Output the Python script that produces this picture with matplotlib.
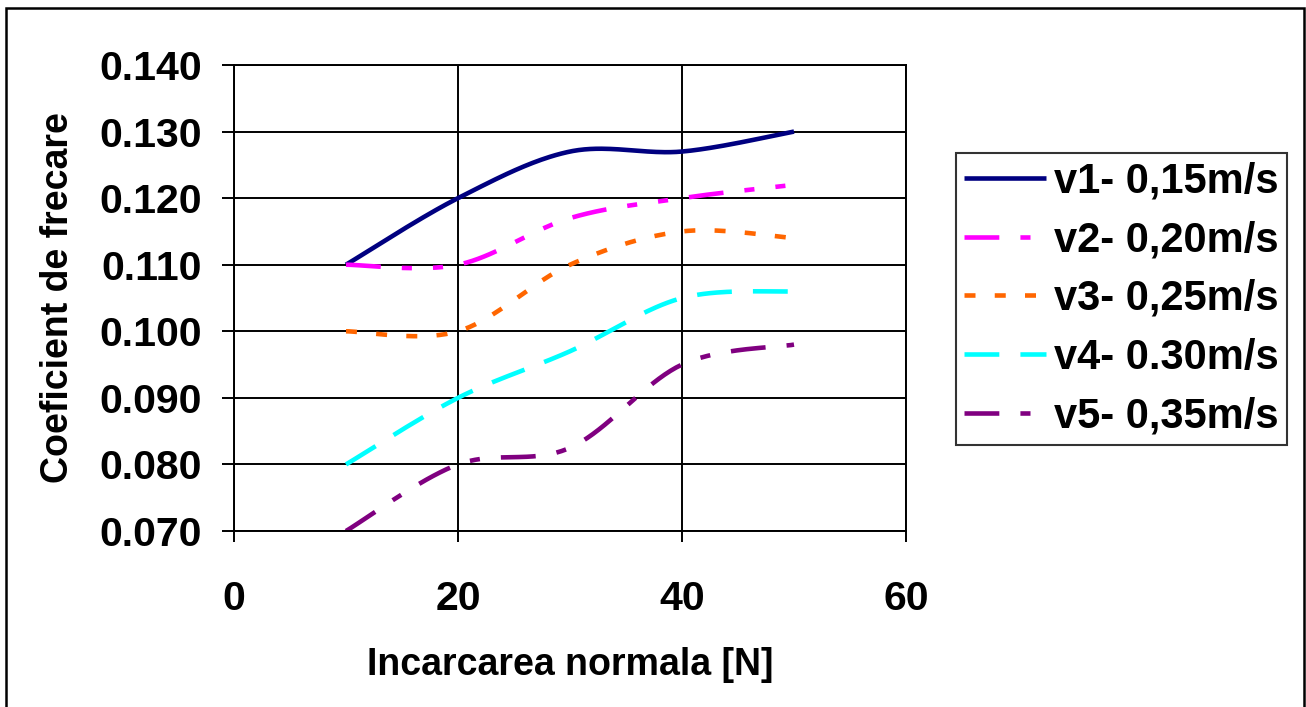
import matplotlib.pyplot as plt
import numpy as np
from matplotlib.patches import Rectangle

plt.rcParams['font.family'] = ['Liberation Sans', 'DejaVu Sans']
plt.rcParams['font.weight'] = 'bold'

load = [10, 20, 30, 40, 50]
v1 = [0.110, 0.120, 0.127, 0.127, 0.130]
v2 = [0.110, 0.110, 0.117, 0.120, 0.122]
v3 = [0.100, 0.100, 0.110, 0.115, 0.114]
v4 = [0.080, 0.090, 0.097, 0.105, 0.106]
v5 = [0.070, 0.080, 0.0825, 0.095, 0.098]
labels = ['v1- 0,15m/s', 'v2- 0,20m/s', 'v3- 0,25m/s', 'v4- 0.30m/s', 'v5- 0,35m/s']
colors = ['#000080', '#FF00FF', '#FF6600', '#00FFFF', '#800080']
dashes = [None, (7.6, 4.6, 2.2, 4.6, 2.2, 4.6), (2.4, 4.2), (7.6, 4.6), (7.6, 4.6, 2.2, 4.6)]


def smooth(xs, ys, n=40):
    # bezier smoothing through the points (catmull-rom style tangents)
    p = np.column_stack([xs, ys]).astype(float)
    p = np.vstack([p[0], p, p[-1]])
    out = []
    t = np.linspace(0, 1, n)[:, None]
    for i in range(1, len(p) - 2):
        p0, p1, p2, p3 = p[i - 1], p[i], p[i + 1], p[i + 2]
        c1 = p1 + (p2 - p0) / 6
        c2 = p2 - (p3 - p1) / 6
        seg = ((1 - t) ** 3) * p1 + 3 * ((1 - t) ** 2) * t * c1 + 3 * (1 - t) * t ** 2 * c2 + t ** 3 * p2
        out.append(seg if i == 1 else seg[1:])
    out = np.vstack(out)
    return out[:, 0], out[:, 1]


fig = plt.figure(figsize=(13.06, 7.07), dpi=100)
ax = fig.add_axes([234 / 1306, 1 - 531 / 707, (906 - 234) / 1306, (531 - 65) / 707])

for ys, c, d, lab in zip([v1, v2, v3, v4, v5], colors, dashes, labels):
    sx, sy = smooth(load, ys)
    line, = ax.plot(sx, sy, color=c, lw=3.3, label=lab, solid_capstyle='butt', dash_capstyle='butt')
    if d is not None:
        line.set_dashes(d)

ax.set_xlim(0, 60)
ax.set_ylim(0.070, 0.140)
ax.set_xticks([0, 20, 40, 60])
ax.set_yticks(np.arange(0.070, 0.1401, 0.010))
ax.set_yticklabels(['%.3f' % v for v in np.arange(0.070, 0.1401, 0.010)])
ax.grid(True, color='black', lw=1.4)
ax.set_axisbelow(True)
for s in ax.spines.values():
    s.set_linewidth(1.4)
ax.tick_params(axis='y', direction='out', length=9, width=1.4, pad=14, labelsize=29.5)
ax.tick_params(axis='x', direction='out', length=8, width=1.4, pad=27, labelsize=29.5)

ax.set_xlabel('Incarcarea normala [N]', fontsize=27, fontweight='bold', labelpad=21)
ax.set_ylabel('Coeficient de frecare', fontsize=27, fontweight='bold', labelpad=17)

leg = fig.legend(loc='upper left', bbox_to_anchor=(956 / 1306, 1 - 153 / 707), fontsize=30,
                 frameon=True, fancybox=False, handlelength=1.95, handletextpad=0.2,
                 labelspacing=0.45, borderpad=0.2, borderaxespad=0)
leg.get_frame().set_edgecolor('black')
leg.get_frame().set_linewidth(1.5)

fig.patches.append(Rectangle((6 / 1306, -0.01), (1304 - 6) / 1306, 1.01 - 8 / 707,
                             transform=fig.transFigure, fill=False, edgecolor='black', lw=1.8))

fig.savefig('out.png', dpi=100)
